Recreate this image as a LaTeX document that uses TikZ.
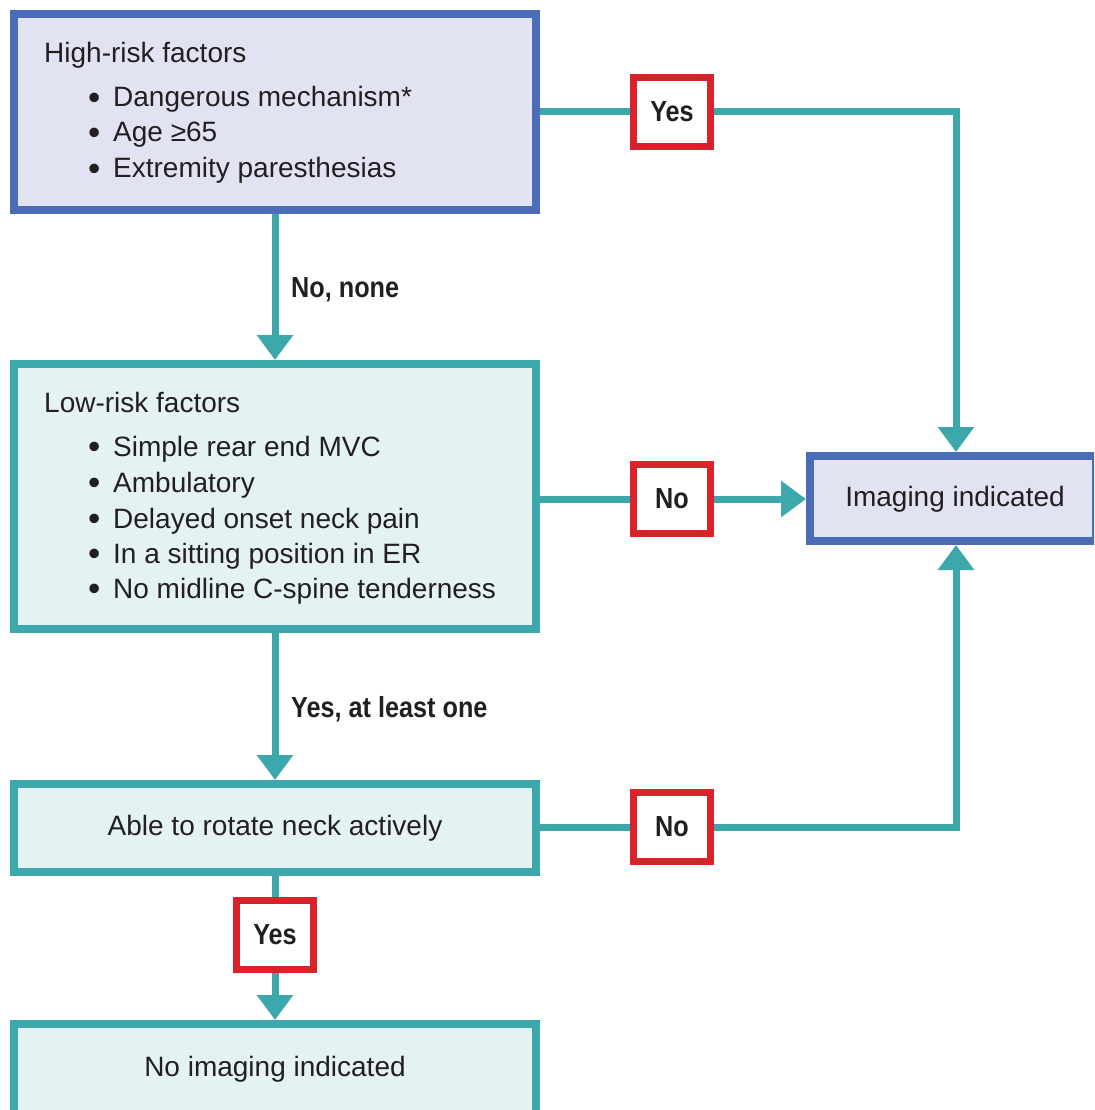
\documentclass[tikz,border=0pt]{standalone}
\usepackage{fontspec}
\setmainfont{Liberation Sans}
\newfontfamily\lblfont[FakeStretch=0.87]{Liberation Sans}
\usetikzlibrary{arrows.meta}

\definecolor{hiblue}{HTML}{4B6CB7}
\definecolor{hifill}{HTML}{E1E3F3}
\definecolor{teal}{HTML}{3DA8AC}
\definecolor{tealfill}{HTML}{E4F2F4}
\definecolor{ansred}{HTML}{D8232A}
\definecolor{ink}{HTML}{231F20}

\newcommand{\itembullet}{\makebox[25pt][l]{\raisebox{-0.09em}{\scalebox{1.25}{•}}}}

\tikzset{
  bluebox/.style={draw=hiblue, fill=hifill, line width=8pt, rectangle, inner sep=0pt},
  tealbox/.style={draw=teal, fill=tealfill, line width=8pt, rectangle, inner sep=0pt},
  answer/.style={draw=ansred, fill=white, line width=7pt, rectangle, inner sep=0pt,
    minimum width=77pt, minimum height=69pt, text=ink,
    font=\lblfont\bfseries\fontsize{29}{30}\selectfont},
  body/.style={anchor=base west, inner sep=0pt, text=ink, font=\fontsize{28}{34}\selectfont},
  bodyc/.style={body, anchor=base},
  lbl/.style={anchor=base west, inner sep=0pt, text=ink,
    font=\lblfont\bfseries\fontsize{29}{30}\selectfont},
  flow/.style={draw=teal, line width=7pt},
  arr/.style={flow, -{Triangle[width=35pt,length=25pt]}},
}

\begin{document}
\begin{tikzpicture}[x=1pt, y=-1pt]
\useasboundingbox (0,0) rectangle (1094,1110);
\clip (0,0) rectangle (1094,1110);

% boxes
\node[bluebox, minimum width=522pt, minimum height=196pt] (high) at (275,112) {};
\node[tealbox, minimum width=522pt, minimum height=265pt] (low) at (275,496.5) {};
\node[tealbox, minimum width=522pt, minimum height=88pt] (able) at (275,828) {};
\node[tealbox, minimum width=522pt, minimum height=102pt] (noimg) at (275,1075) {};
\node[bluebox, minimum width=286pt, minimum height=85pt] (img) at (953,498.5) {};

% answer boxes
\node[answer] (yes1) at (672,112) {Yes};
\node[answer] (no1) at (672,499) {No};
\node[answer] (no2) at (672,827) {No};
\node[answer] (yes2) at (275,934.5) {Yes};

% texts of the high-risk box
\node[body] (h0) at (44,63) {High-risk factors};
\node[body] (h1) at (88,107) {\itembullet Dangerous mechanism*};
\node[body] (h2) at (88,142) {\itembullet Age ≥65};
\node[body] (h3) at (88,178) {\itembullet Extremity paresthesias};

% texts of the low-risk box
\node[body] (l0) at (44,412) {Low-risk factors};
\node[body] (l1) at (88,456) {\itembullet Simple rear end MVC};
\node[body] (l2) at (88,492) {\itembullet Ambulatory};
\node[body] (l3) at (88,528) {\itembullet Delayed onset neck pain};
\node[body] (l4) at (88,563) {\itembullet In a sitting position in ER};
\node[body] (l5) at (88,598) {\itembullet No midline C-spine tenderness};

\node[bodyc] (ablet) at (275,835) {Able to rotate neck actively};
\node[bodyc] (noimgt) at (275,1076) {No imaging indicated};
\node[bodyc] (imgt) at (955,506) {Imaging indicated};

% connectors
\coordinate (c1) at (956,112);
\coordinate (c2) at (956,827);
\draw[flow] (high.east |- yes1) -- (yes1.west);
\draw[arr] (yes1.east) -- (c1) -- (c1 |- img.north);
\draw[arr] (high.south) -- (low.north);
\draw[flow] (low.east |- no1) -- (no1.west);
\draw[arr] (no1.east) -- (img.west |- no1);
\draw[arr] (low.south) -- (able.north);
\draw[flow] (able.east |- no2) -- (no2.west);
\draw[arr] (no2.east) -- (c2) -- (c2 |- img.south);
\draw[flow] (able.south) -- (yes2.north);
\draw[arr] (yes2.south) -- (noimg.north);

% branch labels
\node[lbl] (lb1) at (291,297) {No, none};
\node[lbl] (lb2) at (291,717) {Yes, at least one};
\end{tikzpicture}
\end{document}
